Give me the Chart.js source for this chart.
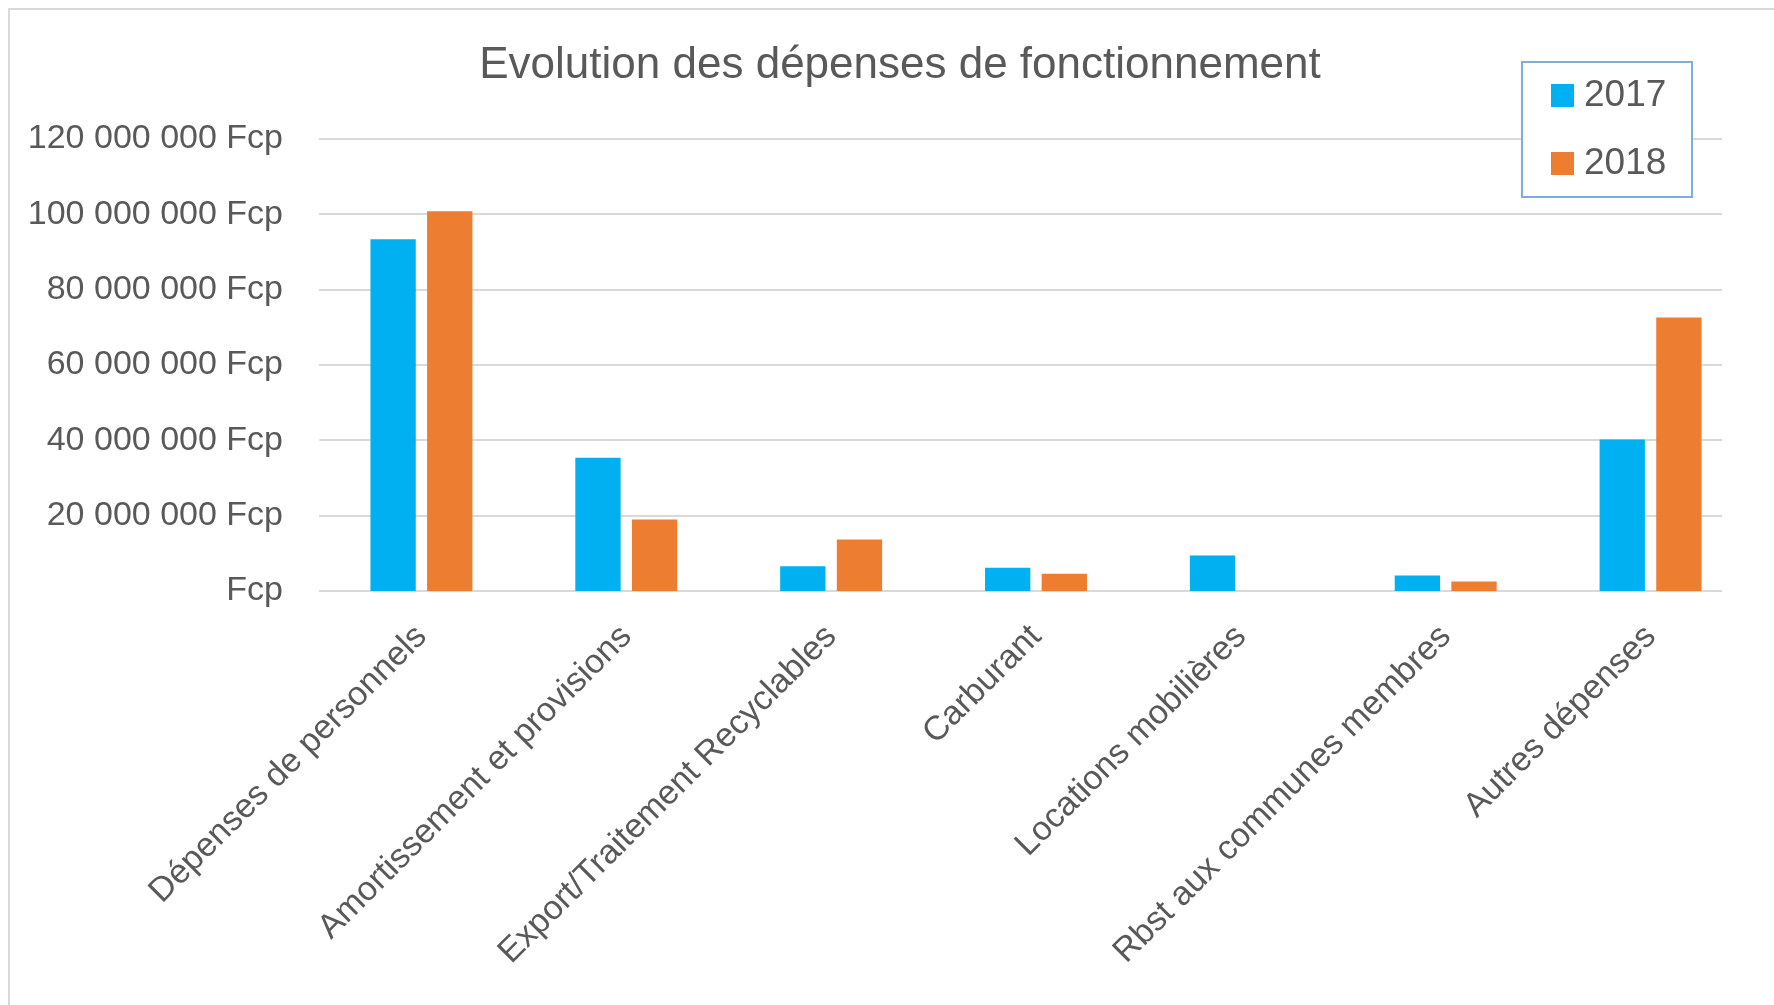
<!DOCTYPE html>
<html>
<head>
<meta charset="utf-8">
<script src="https://cdn.jsdelivr.net/npm/chart.js@4"></script>
<style>
  html, body { margin: 0; padding: 0; background: #fff; }
  #wrap { position: relative; width: 1774px; height: 1005px; }
</style>
</head>
<body>
<div id="wrap"><canvas id="depChart" width="1774" height="1005"></canvas></div>
<script>
// ===== DATA =====
const categories = [
  'Dépenses de personnels',
  'Amortissement et provisions',
  'Export/Traitement Recyclables',
  'Carburant',
  'Locations mobilières',
  'Rbst aux communes membres',
  'Autres dépenses'
];
const seriesNames = ['2017', '2018'];
const values2017 = [93400000, 35400000, 6600000, 6200000, 9400000, 4100000, 40200000];
const values2018 = [100800000, 19000000, 13650000, 4600000, 0, 2500000, 72600000];
const yTicks = [0, 20000000, 40000000, 60000000, 80000000, 100000000, 120000000];
const chartTitle = 'Evolution des dépenses de fonctionnement';

const FONT = '"Liberation Sans", Arial, sans-serif';
const TEXT = '#595959';
const GRID = '#D9D9D9';
const GRID_RIGHT = 1722; // gridlines stop short of the last slot, like the original

function fmtFcp(v) {
  if (v === 0) return 'Fcp';
  return String(v).replace(/\B(?=(\d{3})+(?!\d))/g, ' ') + ' Fcp';
}

// horizontal gridlines + base line, drawn under the bars
const gridLines = {
  id: 'gridLines',
  beforeDatasetsDraw(chart) {
    const c = chart.ctx, y = chart.scales.y, left = chart.chartArea.left;
    c.save();
    c.strokeStyle = GRID;
    c.lineWidth = 2;
    y.ticks.forEach(t => {
      const py = Math.round(y.getPixelForValue(t.value));
      c.beginPath();
      c.moveTo(left, py);
      c.lineTo(GRID_RIGHT, py);
      c.stroke();
    });
    c.restore();
  }
};

// title, frame and boxed legend drawn on top
const decor = {
  id: 'decor',
  afterDraw(chart) {
    const c = chart.ctx;
    c.save();
    // outer frame (only top/left visible)
    c.strokeStyle = GRID;
    c.lineWidth = 2;
    c.beginPath();
    c.moveTo(9, 1005); c.lineTo(9, 9); c.lineTo(1774, 9);
    c.stroke();

    // title
    c.fillStyle = TEXT;
    c.font = '44px ' + FONT;
    c.textAlign = 'center';
    c.textBaseline = 'middle';
    c.fillText(chartTitle, 900, 66);

    // legend
    const bx = 1522, by = 62, bw = 170, bh = 135;
    c.fillStyle = '#fff';
    c.fillRect(bx, by, bw, bh);
    c.strokeStyle = '#7FACDD';
    c.lineWidth = 2;
    c.strokeRect(bx, by, bw, bh);
    c.font = '37px ' + FONT;
    c.textAlign = 'left';
    chart.data.datasets.forEach((ds, i) => {
      const cy = 95 + i * 68;
      c.fillStyle = ds.backgroundColor;
      c.fillRect(1551, cy - 11, 23, 23);
      c.fillStyle = TEXT;
      c.fillText(ds.label, 1584, cy + 1);
    });
    c.restore();
  }
};

new Chart(document.getElementById('depChart'), {
  type: 'bar',
  data: {
    labels: categories,
    datasets: [
      { label: seriesNames[0], data: values2017, backgroundColor: '#00B0F0', barPercentage: 0.8, categoryPercentage: 0.553 },
      { label: seriesNames[1], data: values2018, backgroundColor: '#ED7D31', barPercentage: 0.8, categoryPercentage: 0.553 }
    ]
  },
  options: {
    responsive: false,
    animation: false,
    layout: { padding: { top: 139, right: 21, left: 0, bottom: 0 } },
    plugins: { legend: { display: false }, title: { display: false }, tooltip: { enabled: false } },
    scales: {
      x: {
        grid: { display: false },
        border: { display: false },
        ticks: {
          color: TEXT,
          font: { family: FONT, size: 34 },
          maxRotation: 45, minRotation: 45,
          autoSkip: false,
          padding: 18
        },
        afterFit: s => { s.height = 414; }
      },
      y: {
        min: 0, max: 120000000,
        afterBuildTicks: s => { s.ticks = yTicks.map(v => ({ value: v })); },
        grid: { display: false, drawTicks: false },
        border: { display: false },
        ticks: {
          color: TEXT,
          font: { family: FONT, size: 34 },
          padding: 36,
          callback: v => fmtFcp(v)
        },
        afterFit: s => { s.width = 319; }
      }
    }
  },
  plugins: [gridLines, decor]
});
</script>
</body>
</html>
